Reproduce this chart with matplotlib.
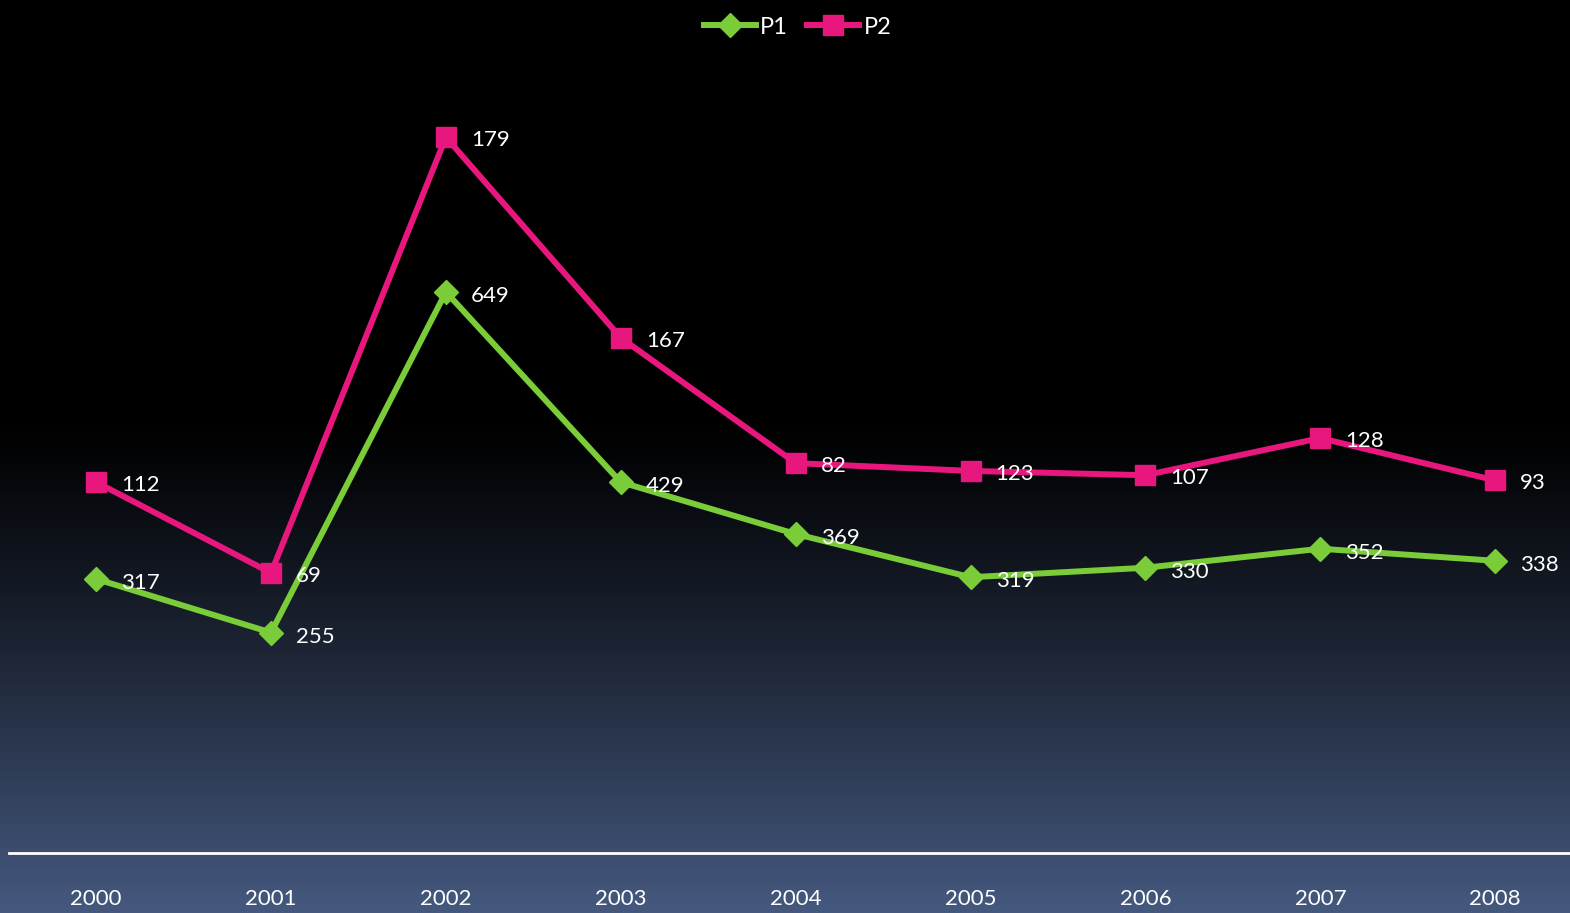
import numpy as np
import matplotlib.pyplot as plt
from matplotlib.colors import LinearSegmentedColormap

years = ['2000', '2001', '2002', '2003', '2004', '2005', '2006', '2007', '2008']
p1 = [317, 255, 649, 429, 369, 319, 330, 352, 338]
p2 = [112, 69, 179, 167, 82, 123, 107, 128, 93]

green = '#7acc38'
pink = '#e8177d'

plt.rcParams['font.family'] = ['Lato', 'DejaVu Sans']

fig = plt.figure(figsize=(15.7, 9.13), dpi=100)

# background gradient: black at top, slate blue at bottom
bg = fig.add_axes([0, 0, 1, 1], zorder=-10)
t = np.linspace(0, 1, 400)
g = np.clip((t - 0.46) / 0.54, 0, 1) ** 1.15
grad = np.tile(g[:, None], (1, 2))
cmap = LinearSegmentedColormap.from_list('bg', ['#000000', '#45597f'])
bg.imshow(grad, aspect='auto', cmap=cmap, extent=[0, 1, 1, 0], vmin=0, vmax=1)
bg.set_axis_off()

# plot area runs a little past the right edge of the figure
ax = fig.add_axes([8.7 / 1570, 60 / 913, 1574 / 1570, 778 / 913])
ax.patch.set_alpha(0)

x = np.arange(len(years))
stack2 = np.add(p1, p2)

ax.plot(x, p1, color=green, lw=4.3, marker='D', ms=12, label='P1', zorder=3)
ax.plot(x, stack2, color=pink, lw=4.3, marker='s', ms=14, label='P2', zorder=3)

for xi, v, s in zip(x, p1, p1):
    ax.annotate(str(v), (xi, s), xytext=(18, -3), textcoords='offset points',
                ha='left', va='center', color='white', fontsize=16)
for xi, v, s in zip(x, p2, stack2):
    ax.annotate(str(v), (xi, s), xytext=(18, -2), textcoords='offset points',
                ha='left', va='center', color='white', fontsize=16)

ax.set_xlim(-0.5, len(years) - 0.5)
ax.set_ylim(0, 900)
ax.set_yticks([])
ax.set_xticks(x)
ax.set_xticklabels(years, color='white', fontsize=16)
ax.tick_params(axis='x', length=0, pad=26)
for side in ['top', 'right', 'left']:
    ax.spines[side].set_visible(False)
ax.spines['bottom'].set_color('white')
ax.spines['bottom'].set_linewidth(2)

leg = fig.legend(loc='upper center', bbox_to_anchor=(0.508, 1.005), ncol=2, frameon=False,
                 fontsize=17, labelcolor='white', handlelength=2.2, handletextpad=0.2,
                 columnspacing=0.8)

fig.savefig('out.png', dpi=100)
